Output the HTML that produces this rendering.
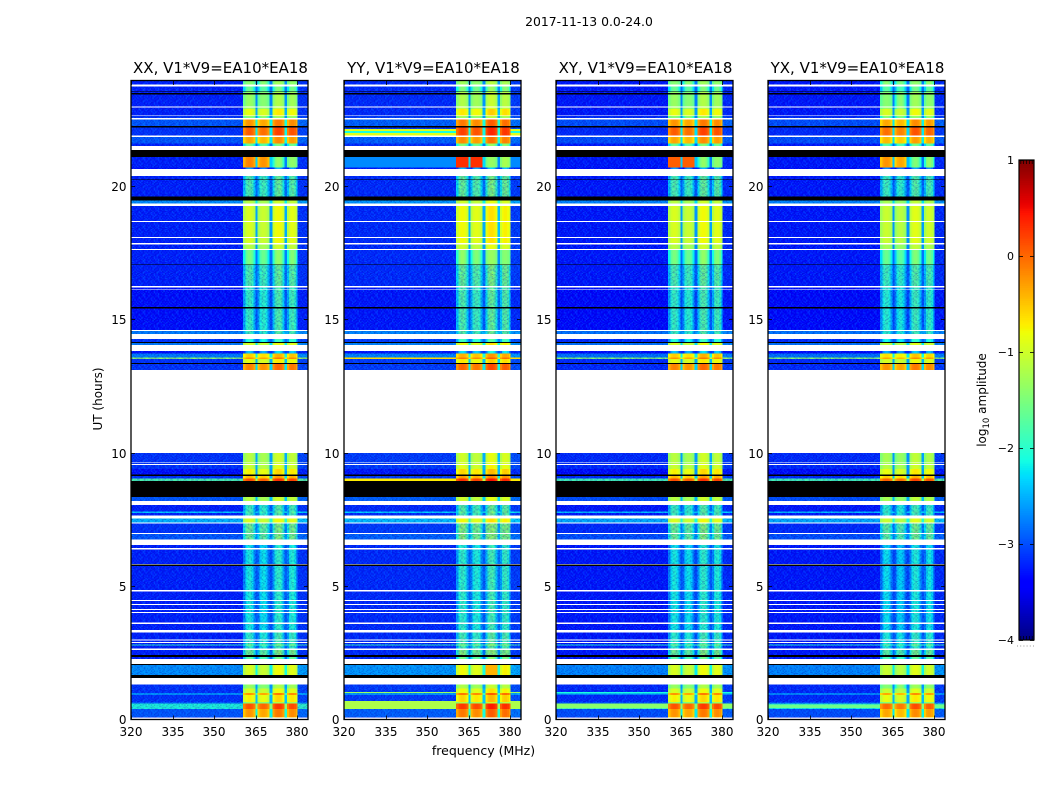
<!DOCTYPE html>
<html>
<head>
<meta charset="utf-8">
<title>2017-11-13 0.0-24.0</title>
<style>
html,body{margin:0;padding:0;background:#fff;width:1050px;height:800px;overflow:hidden}
svg{display:block}
text{font-family:"DejaVu Sans","Liberation Sans",sans-serif;fill:#000}
</style>
</head>
<body>
<svg id="figure" xmlns="http://www.w3.org/2000/svg" width="1050" height="800" viewBox="0 0 1050 800">
  <text x="589" y="26" font-size="12.4" text-anchor="middle">2017-11-13 0.0-24.0</text>
  <text x="483.5" y="755" font-size="12.5" text-anchor="middle">frequency (MHz)</text>
  <text x="0" y="0" font-size="12" text-anchor="middle" transform="translate(102,399) rotate(-90)">UT (hours)</text>
  <text x="0" y="0" font-size="12" text-anchor="middle" transform="translate(986,400) rotate(-90)">log<tspan font-size="8.5" dy="3">10</tspan><tspan dy="-3"> amplitude</tspan></text>
</svg>
<script>
// ---- chart data -------------------------------------------------------
const panelTitles = ['XX, V1*V9=EA10*EA18','YY, V1*V9=EA10*EA18','XY, V1*V9=EA10*EA18','YX, V1*V9=EA10*EA18'];
const panelLeftEdges = [131,344,556,768];
const panelSignalShift = [0,0.15,0,-0.1];
const panelBackgroundShift = [-0.35,-0.3,-0.4,-0.4];
const freqTicks = [320,335,350,365,380];
const utTicks = [0,5,10,15,20];
const colorbarTicks = [-4,-3,-2,-1,0,1];
// observing sub-bands in MHz, and their relative gain
const subbandRanges = [[360.5,365],[365.6,370],[371,375.4],[376.4,380.1]];
const subbandGain = [0,-0.1,0.15,0.05];
// passband shape across each sub-band (log10 offset per slice)
const subbandRipple = [-0.3,0.02,0.12,0.12,0.02,-0.25];
// [ut start, ut end, background log10 amp, signal log10 amp (one value, or one per sub-band)]
const dataBands = [
 [0.00,0.09,-2.8,-0.6],[0.09,0.375,-2.6,-0.3],[0.375,0.58,-1.7,0.05],[0.58,0.64,-2.6,-1.4],
 [0.64,0.90,-2.8,-0.8],[0.90,0.99,-2.3,-0.3],[0.99,1.16,-2.8,-1.0],[1.16,1.31,-2.8,-1.4],
 [1.65,2.03,-2.3,-1.0],[2.25,2.33,-2.9,-1.9],[2.40,2.59,-2.9,-1.7],[2.65,2.76,-2.9,-2.1],
 [2.76,2.80,-1.6,-1.6],[2.80,3.26,-2.9,-2.1],[3.26,5.74,-2.9,-2.25],[5.80,6.42,-2.9,-2.25],
 [6.42,6.75,-2.9,-2.3],[6.75,6.98,-2.6,-1.7],[6.98,7.39,-2.8,-1.7],[7.39,7.65,-2.1,-1.0],
 [7.65,7.73,-2.9,-2.0],[7.73,7.80,-2.0,-1.9],[7.80,8.18,-2.9,-2.0],[8.18,8.33,-2.6,-1.2],
 [8.93,9.04,-1.4,0.1],[9.04,9.12,-2.8,-0.5],[9.19,9.38,-3.0,-0.8],[9.38,9.53,-2.8,-1.1],
 [9.53,9.98,-2.8,-1.2],[13.10,13.36,-2.8,-0.2],[13.36,13.51,-2.8,-0.9],[13.51,13.58,-1.0,-0.3],
 [13.58,13.73,-2.4,-0.6],[13.73,13.81,-3.0,-2.6],[14.05,14.15,-2.4,-1.0],[14.15,14.26,-2.8,-2.2],
 [14.45,14.60,-2.4,-2.0],[14.60,16.25,-3.0,-2.05],[16.25,17.07,-2.9,-1.9],[17.07,17.64,-2.9,-1.7],
 [17.64,17.86,-2.9,-1.2],[17.86,19.25,-2.9,-1.0],[19.36,19.47,-2.3,-1.2],[19.62,20.38,-2.9,-1.9],
 [20.64,20.71,-3.0,-2.8],[20.71,21.09,-2.9,[-0.2,-0.2,-1.7,-1.5]],[21.50,21.61,-2.9,-1.8],
 [21.61,21.84,-2.6,-0.4],[21.91,22.25,-2.8,0.0],[22.25,22.51,-2.6,-0.3],[22.55,22.66,-2.8,-1.5],
 [22.66,22.89,-2.9,-0.9],[22.89,23.00,-2.9,-1.3],[23.00,23.56,-2.9,-1.4],[23.56,23.81,-2.9,-1.8],
 [23.81,23.94,-2.9,-1.5]
];
// [panel, ut start, ut end, log10 amp] bright rows in the off-band channels of one panel
const backgroundHighlights = [
 [1,22.07,22.15,-0.9],[1,22.0,22.07,-2.1],[1,21.91,22.0,-0.9],[1,20.71,21.09,-2.7],
 [1,0.375,0.68,-1.2],[1,0.99,1.03,-1.3],[1,13.51,13.58,-0.6],[1,8.93,9.04,-0.7],
 [2,0.4,0.58,-1.4],[2,0.97,1.03,-2.1],[3,0.42,0.56,-1.6]
];
// [panel, ut start, ut end, sub-band index, log10 amp] strongest sub-band patches of one panel
const signalHighlights = [
 [1,20.71,21.09,0,0.3],[1,20.71,21.09,1,0.3],[1,1.65,2.03,2,-0.4],[2,20.71,21.09,0,0.05],
 [2,20.71,21.09,1,0.05]
];
// time ranges where the on-band signal is weak and noise dominated
const noisySignalRanges = [[2.4,2.76],[2.8,6.53],[6.53,7.39],[7.65,8.18],[14.26,17.07],[19.62,20.38]];
// flagged (blank) rows
const whiteRows = [
 [0,0.07],[1.31,1.54],[2.08,2.25],[2.59,2.65],[2.85,2.89],[2.96,3.00],[3.26,3.34],[3.58,3.62],[3.98,4.02],
 [4.09,4.13],[4.28,4.32],[4.43,4.47],[4.80,4.84],[5.80,5.83],[6.36,6.42],[6.53,6.75],[6.94,6.98],
 [7.35,7.39],[7.54,7.65],[8.03,8.18],[9.53,9.57],[9.61,9.64],[9.98,13.10],[13.81,14.05],[14.26,14.45],
 [14.56,14.60],[16.12,16.15],[16.19,16.25],[17.60,17.64],[17.82,17.86],[18.05,18.09],[18.65,18.69],
 [19.25,19.36],[20.38,20.64],[21.35,21.50],[21.84,21.91],[22.51,22.55],[22.63,22.66],[22.96,23.00],
 [23.75,23.81]
];
// dead (black) rows
const blackRows = [
 [1.54,1.65],[2.03,2.08],[2.33,2.40],[5.74,5.80],[8.33,8.93],[9.12,9.19],[13.32,13.36],[14.11,14.15],
 [15.42,15.46],[17.04,17.07],[19.47,19.62],[20.23,20.26],[21.09,21.35],[22.21,22.25],[23.45,23.49],
 [23.53,23.56]
];
// repeating receiver-noise texture, digit 5 = neutral
const speckleRows = [
 '725184630927415836207194','381906472538160947253806','604273819150726384915427','158640297364815072938146',
 '937215486029371548602739','462081739546208173954120','815397026481593702648157','270648153920764815392076',
 '593712860437195286043719','046285917360428591736042','728159034682715903468271','361904728153619047281536',
 '184573620918457362091845','907326148590732614859073','532861097453286109745328','649017382566901738256690'
];
// tiny end ticks inside the colorbar, as fractions of its width
const colorbarEndTicks = [0.12,0.3,0.5,0.7,0.88];

// ---- axis functions ---------------------------------------------------
const PANEL_W = 177, PANEL_TOP = 81, PANEL_BOTTOM = 719.5;
const PX_PER_UT = 26.65, PX_PER_MHZ = 2.77;
const FREQ_MIN = 320, FREQ_MAX = 384, UT_MAX = 23.94;
const xScale = (left, mhz) => left + (mhz - FREQ_MIN) * PX_PER_MHZ;
const yScale = ut => 719.2 - ut * PX_PER_UT;
const CB_LEFT = 1019, CB_RIGHT = 1034, CB_TOP = 160, CB_BOTTOM = 640;
const cbScale = v => CB_BOTTOM - (v + 4) * (CB_BOTTOM - CB_TOP) / 5;

function piece(t, pts){
  for(let i = 1; i < pts.length; i++){
    if(t <= pts[i][0]){
      const a = pts[i-1], b = pts[i];
      return a[1] + (b[1]-a[1]) * (t-a[0]) / (b[0]-a[0]);
    }
  }
  return pts[pts.length-1][1];
}
function jet(v){
  const t = Math.max(0, Math.min(1, (v+4)/5));
  const r = piece(t, [[0,0],[.35,0],[.66,1],[.89,1],[1,.5]]);
  const g = piece(t, [[0,0],[.125,0],[.375,1],[.64,1],[.91,0],[1,0]]);
  const b = piece(t, [[0,.5],[.11,1],[.34,1],[.65,0],[1,0]]);
  return 'rgb(' + Math.round(r*255) + ',' + Math.round(g*255) + ',' + Math.round(b*255) + ')';
}

const NS = 'http://www.w3.org/2000/svg';
const fig = document.getElementById('figure');
function make(tag, attrs, parent){
  const el = document.createElementNS(NS, tag);
  for(const k in attrs) el.setAttribute(k, attrs[k]);
  parent.appendChild(el);
  return el;
}

// speckle pattern
const defs = make('defs', {}, fig);
const CELL_W = 1.385, CELL_H = 1.07;
const pattern = make('pattern', {id:'speckle', patternUnits:'userSpaceOnUse', width:speckleRows[0].length*CELL_W, height:speckleRows.length*CELL_H}, defs);
speckleRows.forEach((row, r) => {
  row.split('').forEach((ch, c) => {
    const d = Number(ch) - 5;
    if(d === 0) return;
    const cell = make('rect', {x:c*CELL_W, y:r*CELL_H, width:CELL_W, height:CELL_H,
      fill: d > 0 ? 'rgb(0,150,255)' : 'rgb(0,0,170)',
      'fill-opacity': d > 0 ? 0.09*d : 0.07*(-d)}, pattern);
    
    
  });
});

// panels
panelLeftEdges.forEach((left, p) => {
  const panel = make('g', {}, fig);
  
  

  const title = make('text', {x:left+PANEL_W/2+1, y:73, 'font-size':15, 'text-anchor':'middle'}, panel);
  title.textContent = panelTitles[p];
  
  

  const clip = make('clipPath', {id:'clip'+p}, defs);
  make('rect', {x:left, y:PANEL_TOP, width:PANEL_W, height:PANEL_BOTTOM-PANEL_TOP}, clip);

  const plot = make('g', {'clip-path':'url(#clip'+p+')', 'shape-rendering':'crispEdges'}, panel);
  
  

  const addCell = (f0, f1, ut0, ut1, val) => {
    const r = make('rect', {x:xScale(left,f0), y:yScale(ut1), width:(f1-f0)*PX_PER_MHZ, height:(ut1-ut0)*PX_PER_UT, fill:jet(val)}, plot);
    
    
  };

  dataBands.forEach(b => {
    const ut0 = b[0], ut1 = b[1];
    const bg = b[2] + panelBackgroundShift[p];
    addCell(FREQ_MIN, subbandRanges[0][0], ut0, ut1, bg);
    addCell(subbandRanges[3][1], FREQ_MAX, ut0, ut1, bg + 0.1);
    subbandRanges.forEach((range, s) => {
      const sigRaw = Array.isArray(b[3]) ? b[3][s] : b[3];
      const sig = sigRaw + panelSignalShift[p] + subbandGain[s];
      const sliceW = (range[1]-range[0]) / subbandRipple.length;
      const weight = sig < -1.5 ? 1.6 : 0.6;
      subbandRipple.forEach((off, i) => {
        addCell(range[0]+i*sliceW, range[0]+(i+1)*sliceW, ut0, ut1, sig+off*weight);
      });
      if(s < subbandRanges.length - 1){
        addCell(range[1], subbandRanges[s+1][0], ut0, ut1, bg + 0.3*(sig-bg));
      }
    });
  });

  const noiseLeft = make('rect', {x:left, y:PANEL_TOP, width:xScale(left,subbandRanges[0][0])-left, height:PANEL_BOTTOM-PANEL_TOP, fill:'url(#speckle)'}, plot);
  
  
  const noiseRight = make('rect', {x:xScale(left,subbandRanges[3][1]), y:PANEL_TOP, width:left+PANEL_W-xScale(left,subbandRanges[3][1]), height:PANEL_BOTTOM-PANEL_TOP, fill:'url(#speckle)'}, plot);
  
  
  noisySignalRanges.forEach(n => {
    const x0 = xScale(left,subbandRanges[0][0]);
    const x1 = xScale(left,subbandRanges[3][1]);
    const o = make('rect', {x:x0, y:yScale(n[1]), width:x1-x0, height:(n[1]-n[0])*PX_PER_UT, fill:'url(#speckle)'}, plot);
    
    
  });

  backgroundHighlights.filter(h => h[0] === p).forEach(h => {
    addCell(FREQ_MIN, subbandRanges[0][0], h[1], h[2], h[3]);
    addCell(subbandRanges[3][1], FREQ_MAX, h[1], h[2], h[3]);
  });
  signalHighlights.filter(h => h[0] === p).forEach(h => {
    const range = subbandRanges[h[3]];
    addCell(range[0], range[1], h[1], h[2], h[4]);
  });

  whiteRows.forEach(w => {
    const r = make('rect', {x:left, y:yScale(w[1]), width:PANEL_W, height:(w[1]-w[0])*PX_PER_UT, fill:'#fff'}, plot);
    
    
  });
  blackRows.forEach(k => {
    const r = make('rect', {x:left, y:yScale(k[1]), width:PANEL_W, height:(k[1]-k[0])*PX_PER_UT, fill:'#000'}, plot);
    
    
  });

  const frame = make('rect', {x:left, y:PANEL_TOP-0.5, width:PANEL_W, height:PANEL_BOTTOM-PANEL_TOP+0.5, fill:'none', stroke:'#000', 'stroke-width':1.3}, panel);
  
  

  freqTicks.forEach(f => {
    const x = Math.round(xScale(left,f)) + 0.5;
    [[PANEL_BOTTOM,PANEL_BOTTOM-4],[PANEL_TOP,PANEL_TOP+4]].forEach(pair => {
      const t = make('line', {x1:x, x2:x, y1:pair[0], y2:pair[1], stroke:'#000', 'stroke-width':0.8}, panel);
      
      
    });
    const label = make('text', {x:x-0.5, y:736, 'font-size':12, 'text-anchor':'middle'}, panel);
    label.textContent = f;
    
    
  });
  utTicks.forEach(u => {
    const y = Math.round(yScale(u)) + 0.5;
    [[left,left+4],[left+PANEL_W,left+PANEL_W-4]].forEach(pair => {
      const t = make('line', {x1:pair[0], x2:pair[1], y1:y, y2:y, stroke:'#000', 'stroke-width':0.8}, panel);
      
      
    });
    const label = make('text', {x:left-4.5, y:y+4.5, 'font-size':12, 'text-anchor':'end'}, panel);
    label.textContent = u;
    
    
  });
});

// colorbar
const cb = make('g', {}, fig);


const CB_STEPS = 256;
for(let i = 0; i < CB_STEPS; i++){
  const v0 = -4 + 5*i/CB_STEPS, v1 = -4 + 5*(i+1)/CB_STEPS;
  const r = make('rect', {x:CB_LEFT, y:cbScale(v1), width:CB_RIGHT-CB_LEFT, height:cbScale(v0)-cbScale(v1)+0.4, fill:jet((v0+v1)/2), 'shape-rendering':'crispEdges'}, cb);
  
  
}
const cbFrame = make('rect', {x:CB_LEFT, y:CB_TOP, width:CB_RIGHT-CB_LEFT, height:CB_BOTTOM-CB_TOP, fill:'none', stroke:'#000', 'stroke-width':1.2}, cb);


colorbarTicks.forEach(v => {
  const y = Math.round(cbScale(v)) + 0.5;
  [[CB_LEFT,CB_LEFT+4],[CB_RIGHT,CB_RIGHT-4]].forEach(pair => {
    const t = make('line', {x1:pair[0], x2:pair[1], y1:y, y2:y, stroke:'#000', 'stroke-width':0.8}, cb);
    
    
  });
  const label = make('text', {x:CB_LEFT-5, y:y+3.5, 'font-size':11, 'text-anchor':'end', fill:'#222'}, cb);
  label.textContent = v < 0 ? '\u2212' + Math.abs(v) : String(v);
  
  
});
colorbarEndTicks.forEach(f => {
  const x = CB_LEFT + f*(CB_RIGHT-CB_LEFT);
  [[CB_TOP,CB_TOP+4],[CB_BOTTOM,CB_BOTTOM-4]].forEach(pair => {
    const t = make('line', {x1:x, x2:x, y1:pair[0], y2:pair[1], stroke:'#000', 'stroke-width':0.7}, cb);
    
    
  });
});
const cbDots = make('line', {x1:1017, x2:1035, y1:646, y2:646, stroke:'#999', 'stroke-width':1, 'stroke-dasharray':'1 2.2'}, cb);


</script>
</body>
</html>
